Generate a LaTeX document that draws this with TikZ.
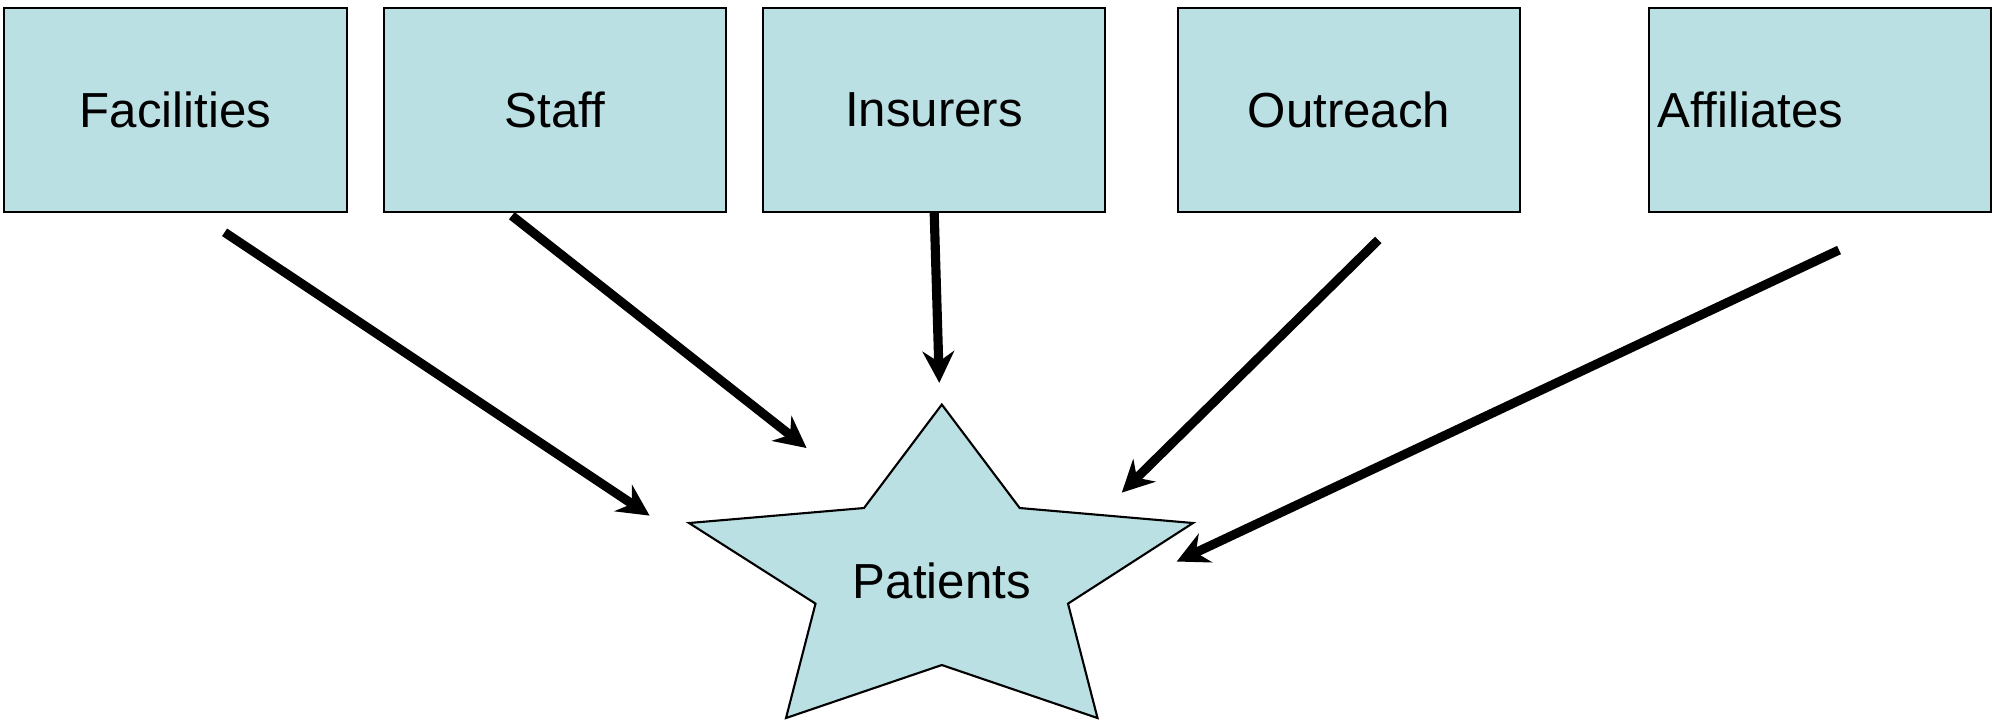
\documentclass[tikz,border=0pt]{standalone}
\usepackage{fontspec}
\setmainfont{Liberation Sans}
\usepackage{tikz}
\usetikzlibrary{arrows.meta}
\definecolor{boxblue}{RGB}{187,224,227}
\tikzset{
% Two node styles: the boxes on top and the text in the star
box node/.style={rectangle,draw,line width=0.6pt,fill=boxblue,minimum width=3.42cm,minimum height=2.04cm,inner sep=0},
star text/.style={inner sep=0},
% Thick arrows pointing at the star
thick arrow/.style={line width=2.6pt,-{Stealth[length=9pt,width=9pt,inset=3pt]}}
}
\begin{document}
\begin{tikzpicture}[x=0.01cm,y=-0.01cm,font=\fontsize{14}{16}\selectfont]
\useasboundingbox (0,0) rectangle (2001,720);
% The boxes
\node(1)[box node] at (175.5,110){Facilities};
\node(2)[box node] at (555,110){Staff};
\node(3)[box node] at (934,110){Insurers};
\node(4)[box node] at (1349,110){Outreach};
\node(5)[box node,minimum width=0,text width=3.24cm,align=left,inner xsep=0.09cm] at (1820,110){Affiliates};
% The star
\filldraw[fill=boxblue,line width=0.6pt,line join=miter]
(941.8,404.5) -- (1019.7,508) -- (1193,523) -- (1068,603.6) -- (1097.5,718) --
(941.8,665) -- (786,718) -- (815.5,603.6) -- (689,523) -- (864,508) -- cycle;
\node(0)[star text] at (941.8,580.6){Patients};
% Ends of the arrows
\coordinate (1s) at (224.6,232.3); \coordinate (1e) at (649.6,515.6);
\coordinate (2s) at (511.8,215.7); \coordinate (2e) at (806.6,448);
\coordinate (3s) at (934.2,213.1); \coordinate (3e) at (939.3,382.9);
\coordinate (4s) at (1378.3,239.9); \coordinate (4e) at (1121.8,492.6);
\coordinate (5s) at (1839,250); \coordinate (5e) at (1176.7,561.5);
\draw[thick arrow] (1s) -- (1e);
\draw[thick arrow] (2s) -- (2e);
\draw[thick arrow] (3s) -- (3e);
\draw[thick arrow] (4s) -- (4e);
\draw[thick arrow] (5s) -- (5e);
\end{tikzpicture}
\end{document}
